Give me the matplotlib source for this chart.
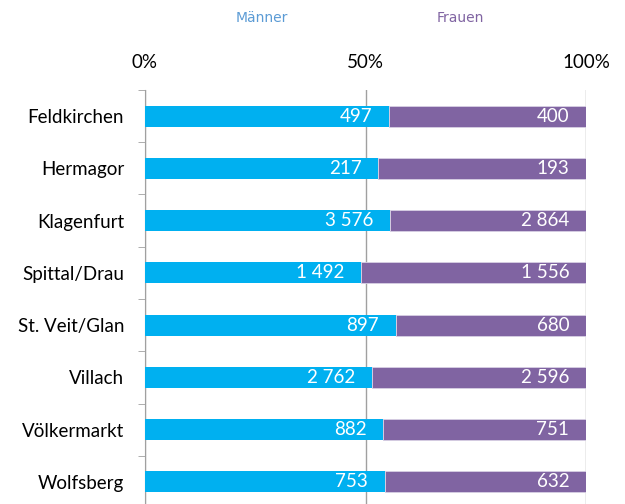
import matplotlib
matplotlib.use("Agg")
import matplotlib.pyplot as plt
import numpy as np

bezirke = ["Feldkirchen", "Hermagor", "Klagenfurt", "Spittal/Drau", "St. Veit/Glan",
           "Villach", "Völkermarkt", "Wolfsberg"]
maenner = [497, 217, 3576, 1492, 897, 2762, 882, 753]
frauen = [400, 193, 2864, 1556, 680, 2596, 751, 632]

c_m = "#00B0F0"
c_f = "#8064A2"


def fmt(v):
    return "{:,}".format(v).replace(",", " ")


m = np.array(maenner, dtype=float)
f = np.array(frauen, dtype=float)
tot = m + f
pm = m / tot
pf = f / tot

fig = plt.figure(figsize=(6.25, 5.04), dpi=100)
ax = fig.add_axes([145 / 625, 1 - 508 / 504, 441 / 625, 418 / 504])

y = np.arange(len(bezirke))
ax.barh(y, pm, height=0.4, color=c_m, zorder=3)
ax.barh(y, pf, left=pm, height=0.4, color=c_f, edgecolor="#d8d0e4", linewidth=0.6, zorder=3)

for i in range(len(bezirke)):
    ax.text(pm[i] - 0.038, y[i], fmt(maenner[i]), ha="right", va="center",
            color="white", fontsize=13.5, family="Lato", zorder=4)
    ax.text(0.962, y[i], fmt(frauen[i]), ha="right", va="center",
            color="white", fontsize=13.5, family="Lato", zorder=4)

ax.set_xlim(0, 1)
ax.set_ylim(len(bezirke) - 0.5, -0.5)
ax.set_xticks([0, 0.5, 1])
ax.set_xticklabels(["0%", "50%", "100%"], fontsize=13.5, family="Lato")
ax.xaxis.tick_top()
ax.tick_params(axis="x", length=0, pad=14)
ax.set_yticks(y)
ax.set_yticklabels(bezirke, fontsize=13.5, family="Lato")
ax.set_yticks(np.arange(len(bezirke) + 1) - 0.5, minor=True)
ax.tick_params(axis="y", which="major", length=0, pad=15)
ax.tick_params(axis="y", which="minor", length=5, color="#a0a0a0", direction="out")
ax.grid(axis="x", color="#a0a0a0", linewidth=1, zorder=0)
for s in ["top", "right", "bottom"]:
    ax.spines[s].set_visible(False)
ax.spines["left"].set_color("#a0a0a0")

fig.text(262 / 625, 1 - 18 / 504, "Männer", color="#5B9BD5", fontsize=10,
         ha="center", va="center", family="DejaVu Sans")
fig.text(460 / 625, 1 - 18 / 504, "Frauen", color=c_f, fontsize=10,
         ha="center", va="center", family="DejaVu Sans")

fig.savefig("out.png", dpi=100)
